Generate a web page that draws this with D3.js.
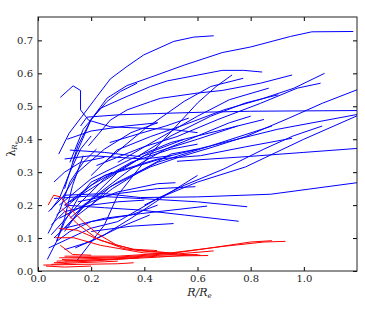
<!DOCTYPE html>
<html>
<head>
<meta charset="utf-8">
<script src="https://cdn.jsdelivr.net/npm/d3@7/dist/d3.min.js"></script>
<style>
  body { margin: 0; background: #fff; }
  text { font-family: "DejaVu Serif", serif; }
</style>
</head>
<body>
<div id="chart"></div>
<script>
// tick labels
var xTicks = [0.0, 0.2, 0.4, 0.6, 0.8, 1.0];
var yTicks = [0.0, 0.1, 0.2, 0.3, 0.4, 0.5, 0.6, 0.7];

// blue profiles, [R/Re, lambda]
var blueSeries = [
  [[0.078,0.355],[0.117,0.418],[0.166,0.47],[0.222,0.53],[0.272,0.583],[0.335,0.621],[0.398,0.656],[0.511,0.697],[0.586,0.71],[0.661,0.714]],
  [[0.13,0.33],[0.2,0.46],[0.26,0.525],[0.335,0.563],[0.423,0.588],[0.55,0.625],[0.693,0.663],[0.8,0.68],[0.95,0.712],[1.03,0.726],[1.186,0.727]],
  [[0.1,0.25],[0.15,0.38],[0.2,0.46],[0.26,0.515],[0.31,0.545],[0.373,0.57]],
  [[0.12,0.33],[0.17,0.43],[0.235,0.494],[0.335,0.53],[0.423,0.56],[0.486,0.577],[0.693,0.609],[0.774,0.609],[0.843,0.604]],
  [[0.19,0.38],[0.272,0.458],[0.335,0.489],[0.423,0.514],[0.46,0.524],[0.599,0.54],[0.693,0.548],[0.837,0.57],[0.956,0.595]],
  [[0.2,0.29],[0.297,0.367],[0.423,0.408],[0.548,0.443],[0.699,0.489],[0.837,0.521],[0.963,0.555],[1.078,0.6]],
  [[0.22,0.32],[0.398,0.377],[0.523,0.408],[0.674,0.459],[0.837,0.509],[0.975,0.555],[1.063,0.57]],
  [[0.147,0.032],[0.25,0.14],[0.3,0.23],[0.374,0.306],[0.44,0.37],[0.52,0.44],[0.6,0.51],[0.67,0.56],[0.73,0.595]],
  [[0.25,0.33],[0.4,0.43],[0.55,0.515],[0.65,0.56],[0.772,0.585]],
  [[0.3,0.33],[0.45,0.4],[0.6,0.47],[0.72,0.52],[0.868,0.555]],
  [[0.38,0.35],[0.5,0.41],[0.65,0.47],[0.78,0.51],[0.904,0.535]],
  [[0.084,0.527],[0.132,0.562],[0.16,0.548],[0.16,0.489],[0.19,0.458],[0.272,0.438],[0.398,0.433],[0.5,0.43],[0.6,0.42]],
  [[0.16,0.44],[0.184,0.467],[0.3,0.474],[0.45,0.478],[0.62,0.482],[0.8,0.485],[1.2,0.487]],
  [[0.2,0.2],[0.272,0.256],[0.423,0.316],[0.536,0.347],[0.661,0.377],[0.781,0.408],[0.944,0.464],[1.069,0.509],[1.2,0.55]],
  [[0.3,0.15],[0.45,0.22],[0.6,0.27],[0.781,0.316],[1.0,0.4],[1.2,0.471]],
  [[0.12,0.21],[0.3,0.3],[0.5,0.35],[0.7,0.39],[0.9,0.43],[1.2,0.475]],
  [[0.4,0.2],[0.55,0.26],[0.7,0.31],[0.85,0.37],[0.96,0.41],[1.069,0.44]],
  [[0.1,0.2],[0.25,0.29],[0.45,0.34],[0.611,0.35],[0.781,0.377],[0.956,0.403]],
  [[0.523,0.333],[0.65,0.34],[0.8,0.348],[1.0,0.36],[1.2,0.372]],
  [[0.27,0.39],[0.386,0.418],[0.48,0.44],[0.567,0.464]],
  [[0.12,0.367],[0.25,0.36],[0.385,0.347]],
  [[0.1,0.34],[0.2,0.35],[0.3,0.345],[0.4,0.34],[0.5,0.35]],
  [[0.11,0.4],[0.2,0.425],[0.33,0.44],[0.45,0.45]],
  [[0.07,0.17],[0.2,0.26],[0.35,0.33],[0.5,0.37],[0.6,0.385]],
  [[0.08,0.2],[0.2,0.28],[0.35,0.34],[0.5,0.39],[0.7,0.43],[0.85,0.46]],
  [[0.1,0.13],[0.2,0.22],[0.3,0.3],[0.42,0.36],[0.55,0.4]],
  [[0.05,0.11],[0.15,0.2],[0.25,0.28],[0.4,0.35],[0.6,0.4],[0.75,0.44]],
  [[0.09,0.22],[0.15,0.3],[0.25,0.37],[0.35,0.42],[0.45,0.45]],
  [[0.1,0.12],[0.17,0.2],[0.3,0.27],[0.45,0.33],[0.65,0.38],[0.88,0.44]],
  [[0.06,0.1],[0.15,0.17],[0.28,0.25],[0.4,0.31],[0.5,0.355],[0.6,0.37]],
  [[0.12,0.16],[0.22,0.23],[0.35,0.31],[0.48,0.37],[0.6,0.41],[0.72,0.45],[0.8,0.47]],
  [[0.04,0.18],[0.1,0.23],[0.25,0.235],[0.385,0.223],[0.6,0.225],[0.875,0.233],[1.2,0.268]],
  [[0.06,0.22],[0.2,0.228],[0.385,0.22],[0.6,0.21],[0.787,0.195]],
  [[0.1,0.2],[0.25,0.192],[0.385,0.185],[0.55,0.17],[0.755,0.151]],
  [[0.1,0.13],[0.25,0.16],[0.385,0.174],[0.636,0.197]],
  [[0.2,0.12],[0.35,0.136],[0.51,0.144]],
  [[0.08,0.16],[0.2,0.21],[0.3,0.24],[0.45,0.265],[0.517,0.268]],
  [[0.15,0.21],[0.3,0.235],[0.45,0.25],[0.592,0.256]],
  [[0.035,0.035],[0.07,0.09],[0.1,0.16],[0.13,0.26],[0.17,0.35]],
  [[0.038,0.114],[0.08,0.18],[0.12,0.27],[0.17,0.33],[0.22,0.37]],
  [[0.04,0.07],[0.12,0.1],[0.2,0.13],[0.3,0.15]],
  [[0.07,0.09],[0.12,0.12],[0.2,0.15],[0.35,0.17],[0.45,0.2]],
  [[0.1,0.065],[0.2,0.09],[0.3,0.13],[0.42,0.17]],
  [[0.047,0.185],[0.08,0.22],[0.12,0.3],[0.16,0.37],[0.2,0.41]],
  [[0.06,0.27],[0.1,0.3],[0.16,0.33],[0.25,0.345]],
  [[0.05,0.14],[0.1,0.18],[0.2,0.2],[0.3,0.21],[0.4,0.215]],
  [[0.07,0.09],[0.1,0.15],[0.15,0.22],[0.2,0.27],[0.28,0.3]],
  [[0.14,0.07],[0.25,0.11],[0.35,0.16],[0.48,0.23],[0.6,0.29]]
];

// red profiles, [R/Re, lambda]
var redSeries = [
  [[0.038,0.2],[0.059,0.23],[0.084,0.225],[0.12,0.19],[0.17,0.15],[0.222,0.114],[0.297,0.078],[0.36,0.066],[0.448,0.062]],
  [[0.09,0.19],[0.147,0.144],[0.222,0.098],[0.323,0.068],[0.4,0.06],[0.486,0.055]],
  [[0.078,0.129],[0.147,0.124],[0.235,0.093],[0.36,0.065],[0.523,0.053]],
  [[0.065,0.101],[0.134,0.101],[0.235,0.078],[0.398,0.055],[0.611,0.048]],
  [[0.084,0.078],[0.13,0.05],[0.2,0.048]],
  [[0.1,0.045],[0.3,0.045],[0.5,0.055],[0.7,0.075],[0.85,0.088],[0.931,0.09]],
  [[0.08,0.04],[0.3,0.042],[0.5,0.053],[0.65,0.07],[0.8,0.088],[0.88,0.092]],
  [[0.09,0.035],[0.3,0.04],[0.5,0.05],[0.661,0.061]],
  [[0.07,0.03],[0.25,0.035],[0.45,0.045],[0.64,0.047]],
  [[0.1,0.03],[0.3,0.036],[0.45,0.042],[0.6,0.05]],
  [[0.06,0.025],[0.2,0.03],[0.38,0.04]],
  [[0.02,0.018],[0.15,0.02],[0.3,0.022],[0.36,0.025]],
  [[0.03,0.015],[0.1,0.012],[0.2,0.015]],
  [[0.05,0.02],[0.15,0.025],[0.25,0.028],[0.3,0.03]]
];

var width = 365, height = 314;
var margin = {top: 17, right: 8, bottom: 43, left: 38};
var plotW = width - margin.left - margin.right;
var plotH = height - margin.top - margin.bottom;

var x = d3.scaleLinear().domain([0, 1.2]).range([0, plotW]);
var y = d3.scaleLinear().domain([0, 0.771]).range([plotH, 0]);

var svg = d3.select("#chart").append("svg")
    .attr("width", width)
    .attr("height", height);

var g = svg.append("g")
    .attr("transform", "translate(" + margin.left + "," + margin.top + ")");

g.append("clipPath").attr("id", "clip")
  .append("rect").attr("width", plotW).attr("height", plotH);

var line = d3.line()
    .x(function(d) { return x(d[0]); })
    .y(function(d) { return y(d[1]); });

var plot = g.append("g").attr("clip-path", "url(#clip)");

plot.selectAll(".blue").data(blueSeries).enter()
  .append("path")
    .attr("d", line)
    .attr("fill", "none")
    .attr("stroke", "#0000ff")
    .attr("stroke-width", 1);

plot.selectAll(".red").data(redSeries).enter()
  .append("path")
    .attr("d", line)
    .attr("fill", "none")
    .attr("stroke", "#ff0000")
    .attr("stroke-width", 1);

// matplotlib style: inward ticks on all four sides
function styleAxis(sel) {
  sel.select(".domain").remove();
  sel.selectAll(".tick line").attr("stroke", "#000");
  sel.selectAll(".tick text").attr("font-size", 10).attr("fill", "#222");
}

g.append("g")
    .attr("transform", "translate(0," + plotH + ")")
    .call(d3.axisBottom(x).tickValues(xTicks).tickFormat(d3.format(".1f"))
      .tickSizeInner(-4).tickPadding(4))
    .call(styleAxis);

g.append("g")
    .call(d3.axisTop(x).tickValues(xTicks).tickFormat("").tickSizeInner(-4))
    .call(styleAxis);

g.append("g")
    .call(d3.axisLeft(y).tickValues(yTicks).tickFormat(d3.format(".1f"))
      .tickSizeInner(-4).tickPadding(5))
    .call(styleAxis);

g.append("g")
    .attr("transform", "translate(" + plotW + ",0)")
    .call(d3.axisRight(y).tickValues(yTicks).tickFormat("").tickSizeInner(-4))
    .call(styleAxis);

g.append("rect")
    .attr("width", plotW)
    .attr("height", plotH)
    .attr("fill", "none")
    .attr("stroke", "#222")
    .attr("stroke-width", 1);

// axis labels
var xl = svg.append("text")
    .attr("x", margin.left + plotW / 2 + 2)
    .attr("y", 296)
    .attr("text-anchor", "middle")
    .attr("font-size", 11)
    .attr("font-style", "italic")
    .attr("fill", "#222");
xl.append("tspan").text("R/R");
xl.append("tspan").attr("font-size", 7).attr("dy", 2).text("e");

var yl = svg.append("text")
    .attr("transform", "translate(15," + (margin.top + plotH / 2 + 5) + ") rotate(-90)")
    .attr("text-anchor", "middle")
    .attr("font-size", 11)
    .attr("fill", "#222");
yl.append("tspan").text("λ");
yl.append("tspan").attr("font-size", 7).attr("font-style", "italic").attr("dy", 2).text("R");
yl.append("tspan").attr("font-size", 5).attr("font-style", "italic").attr("dy", 1).text("e");
</script>
</body>
</html>
